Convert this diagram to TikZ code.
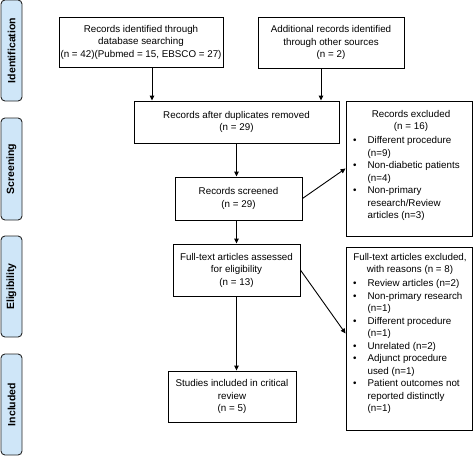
\documentclass[tikz,border=0pt]{standalone}
\usepackage{fontspec}
\setmainfont{Liberation Sans}
\usetikzlibrary{arrows.meta}
\begin{document}
\begin{tikzpicture}[x=1pt,y=-1pt,
  txt/.style={font=\fontsize{9.8}{12.5}\selectfont},
  box/.style={txt,draw=black,line width=0.9pt,align=center,inner sep=1pt},
  side/.style={draw=black!85,line width=0.9pt,fill=sidefill,rounded corners=4pt,minimum width=21pt,minimum height=101pt,inner sep=0pt},
  sidetext/.style={rotate=90,font=\bfseries\fontsize{10.5}{12}\selectfont},
  arr/.style={line width=0.9pt,-{Triangle[length=5pt,width=4.5pt]}},
  listbox/.style={draw=black,line width=0.9pt,inner sep=0pt},
  listtext/.style={txt,anchor=north west,align=left,inner sep=0pt}
]
\definecolor{sidefill}{HTML}{CFE6F8}
\useasboundingbox (0,0) rectangle (473,456);

% side labels
\node[side] (sid) at (11.5,50.5) {};
\node[sidetext] (sidt) at (sid) {Identification};
\node[side,minimum height=102pt] (sscr) at (11.5,169) {};
\node[sidetext] (sscrt) at (sscr) {Screening};
\node[side] (sel) at (11.5,286.5) {};
\node[sidetext] (selt) at (sel) {Eligibility};
\node[side] (sinc) at (11.5,404.5) {};
\node[sidetext] (sinct) at (sinc) {Included};

% main boxes
\node[box,minimum width=164pt,minimum height=50pt] (b1) at (141,42) {Records identified through\\database searching\\(n = 42)(Pubmed = 15, EBSCO = 27)};
\node[box,minimum width=146pt,minimum height=51pt] (b2) at (331,42.5) {Additional records identified\\through other sources\\(n = 2)};
\node[box,minimum width=205pt,minimum height=42pt] (b3) at (236.5,122) {Records after duplicates removed\\(n = 29)};
\node[box,minimum width=127pt,minimum height=43pt] (b5) at (238.5,198.5) {Records screened\\(n = 29)};
\node[box,minimum width=127pt,minimum height=52pt] (b6) at (236.5,270) {Full-text articles assessed\\for eligibility\\(n = 13)};
\node[box,minimum width=128pt,minimum height=51pt] (b8) at (232,396.5) {Studies included in critical\\review\\(n = 5)};

% exclusion boxes
\node[listbox,minimum width=126pt,minimum height=135pt] (b4) at (409,168.5) {};
\node[txt,anchor=north,align=center,inner sep=0pt] (b4t) at (411,110) {Records excluded\\(n = 16)};
\node[listtext] (b4l) at (353,135) {%
\begin{tabular}{@{}l@{\hspace{11pt}}l@{}}
\textbullet & Different procedure\\
 & (n=9)\\
\textbullet & Non-diabetic patients\\
 & (n=4)\\
\textbullet & Non-primary\\
 & research/Review\\
 & articles (n=3)
\end{tabular}};

\node[listbox,minimum width=126pt,minimum height=183pt] (b7) at (409,338.5) {};
\node[txt,anchor=north,align=center,inner sep=0pt] (b7t) at (410,253) {Full-text articles excluded,\\with reasons (n = 8)};
\node[listtext] (b7l) at (353,278) {%
\begin{tabular}{@{}l@{\hspace{11pt}}l@{}}
\textbullet & Review articles (n=2)\\
\textbullet & Non-primary research\\
 & (n=1)\\
\textbullet & Different procedure\\
 & (n=1)\\
\textbullet & Unrelated (n=2)\\
\textbullet & Adjunct procedure\\
 & used (n=1)\\
\textbullet & Patient outcomes not\\
 & reported distinctly\\
 & (n=1)
\end{tabular}};

% arrows
\draw[arr] ([xshift=11pt]b1.south) -- ([xshift=11pt]b1.south |- b3.north);
\draw[arr] ([xshift=-10pt]b2.south) -- ([xshift=-10pt]b2.south |- b3.north);
\draw[arr] (b6.north |- b3.south) -- (b6.north |- b5.north);
\draw[arr] (b6.north |- b5.south) -- (b6.north);
\draw[arr] (b6.south) -- (b6.south |- b8.north);
\draw[arr] (b5.east) -- (b4.west);
\draw[arr] (b6.east) -- ([yshift=5pt]b7.west);
\end{tikzpicture}
\end{document}
